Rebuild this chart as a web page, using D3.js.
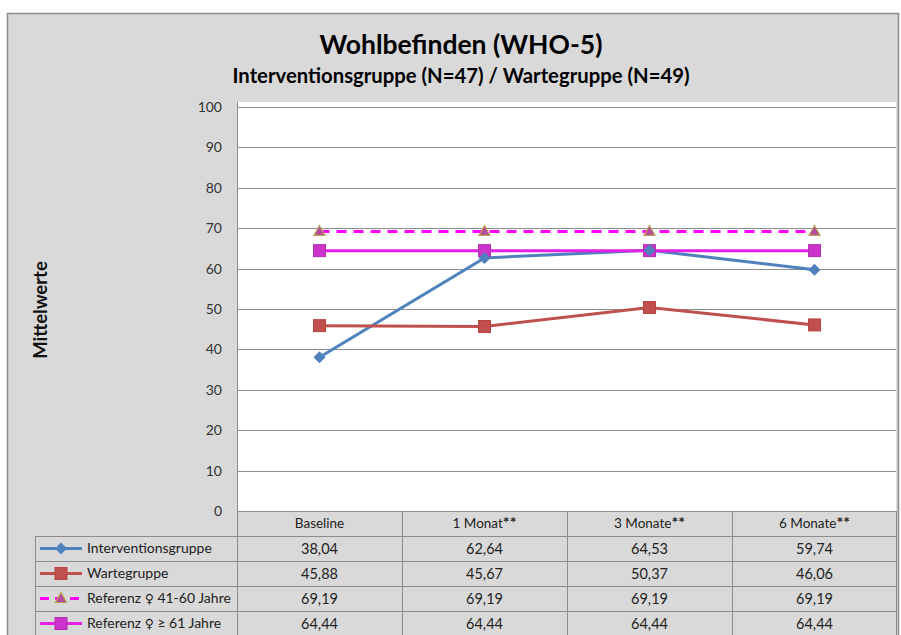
<!DOCTYPE html>
<html>
<head>
<meta charset="utf-8">
<script src="https://cdn.jsdelivr.net/npm/d3@7.9.0/dist/d3.min.js"></script>
<style>
  html, body { margin: 0; padding: 0; background: #fff; }
  svg { display: block; font-family: Lato, "Open Sans", sans-serif; }
</style>
</head>
<body>
<svg id="chart" width="901" height="635"></svg>
<script>
// data
const categories = ['Baseline', '1 Monat**', '3 Monate**', '6 Monate**'];
const seriesNames = ['Interventionsgruppe', 'Wartegruppe', 'Referenz \u2640 41-60 Jahre', 'Referenz \u2640 \u2265 61 Jahre'];
const intervention = [38.04, 62.64, 64.53, 59.74];
const warte = [45.88, 45.67, 50.37, 46.06];
const ref4160 = [69.19, 69.19, 69.19, 69.19];
const ref61 = [64.44, 64.44, 64.44, 64.44];
const yTicks = [0, 10, 20, 30, 40, 50, 60, 70, 80, 90, 100];

const series = [
  { name: seriesNames[0], values: intervention, color: '#4f81bd', marker: 'diamond', dash: null },
  { name: seriesNames[1], values: warte, color: '#c0504d', marker: 'square', dash: null },
  { name: seriesNames[2], values: ref4160, color: '#ff00ff', marker: 'triangle', dash: '10,7' },
  { name: seriesNames[3], values: ref61, color: '#e61ee6', marker: 'square2', dash: null }
];

const de = d3.formatLocale({ decimal: ',', thousands: '.', grouping: [3], currency: ['', ' €'] });
const fmt = de.format('.2f');

const svg = d3.select('#chart');
const gridCol = '#8c8c8c';
const bg = '#d9d9d9';

// chart frame
svg.append('rect').attr('x', 7.5).attr('y', 13.5).attr('width', 891).attr('height', 640)
  .attr('fill', bg).attr('stroke', '#8a8a8a').attr('stroke-width', 1.5);

const x = d3.scaleBand().domain(categories).range([237, 897]);
const y = d3.scaleLinear().domain([0, 100]).range([511, 107]);

// plot area
svg.append('rect').attr('x', 237).attr('y', 102).attr('width', 659).attr('height', 409).attr('fill', '#fff');

// gridlines
svg.append('g').selectAll('line').data(yTicks.filter(d => d > 0)).join('line')
  .attr('x1', 237).attr('x2', 896)
  .attr('y1', d => Math.round(y(d)) + 0.5).attr('y2', d => Math.round(y(d)) + 0.5)
  .attr('stroke', gridCol).attr('stroke-width', 1);
svg.append('line').attr('x1', 237.5).attr('x2', 237.5).attr('y1', 102).attr('y2', 511)
  .attr('stroke', gridCol);

// y tick labels
svg.append('g').selectAll('text').data(yTicks).join('text')
  .attr('x', 222).attr('y', d => y(d)).attr('dy', '0.35em')
  .attr('text-anchor', 'end').attr('font-size', 14).attr('fill', '#333')
  .text(d => d);

// axis title
svg.append('text').attr('transform', 'translate(47,310) rotate(-90)')
  .attr('text-anchor', 'middle').attr('font-size', 18.5).attr('font-weight', 'bold').attr('fill', '#111')
  .text('Mittelwerte');

// titles
svg.append('text').attr('x', 461).attr('y', 54).attr('text-anchor', 'middle')
  .attr('font-size', 26.5).attr('font-weight', 'bold').attr('fill', '#000')
  .text('Wohlbefinden (WHO-5)');
svg.append('text').attr('x', 461).attr('y', 83).attr('text-anchor', 'middle')
  .attr('font-size', 20.3).attr('font-weight', 'bold').attr('fill', '#000')
  .text('Interventionsgruppe (N=47) / Wartegruppe (N=49)');

// markers
function drawMarker(g, type, cx, cy, color) {
  if (type === 'diamond') {
    g.append('path').attr('d', `M${cx},${cy - 6}L${cx + 6},${cy}L${cx},${cy + 6}L${cx - 6},${cy}Z`)
      .attr('fill', color);
  } else if (type === 'square') {
    g.append('rect').attr('x', cx - 6).attr('y', cy - 6).attr('width', 12).attr('height', 12)
      .attr('fill', color).attr('stroke', '#b84540');
  } else if (type === 'triangle') {
    g.append('path').attr('d', `M${cx},${cy - 6}L${cx + 5.5},${cy + 4}L${cx - 5.5},${cy + 4}Z`)
      .attr('fill', '#b54aa0').attr('stroke', '#b8a050').attr('stroke-width', 1.2);
  } else {
    g.append('rect').attr('x', cx - 6).attr('y', cy - 6).attr('width', 12).attr('height', 12)
      .attr('fill', '#cc33cc').attr('stroke', '#b030b0');
  }
}

const line = d3.line().x((d, i) => x(categories[i]) + x.bandwidth() / 2).y(d => y(d));
const lines = svg.append('g');
series.forEach(s => {
  lines.append('path').datum(s.values).attr('d', line)
    .attr('fill', 'none').attr('stroke', s.color).attr('stroke-width', 3)
    .attr('stroke-dasharray', s.dash);
});
// draw order: later series on top
[2, 3, 0, 1].forEach(k => {
  const s = series[k];
  const g = svg.append('g');
  s.values.forEach((v, i) => drawMarker(g, s.marker, x(categories[i]) + x.bandwidth() / 2, y(v), s.color));
});

// data table
const rowH = 25;
const table = svg.append('g');
const tTop = 511;
table.append('line').attr('x1', 237).attr('x2', 897).attr('y1', tTop + 0.5).attr('y2', tTop + 0.5).attr('stroke', gridCol);
for (let r = 1; r <= 5; r++) {
  table.append('line').attr('x1', 35).attr('x2', 897)
    .attr('y1', tTop + r * rowH + 0.5).attr('y2', tTop + r * rowH + 0.5).attr('stroke', gridCol);
}
table.append('line').attr('x1', 35.5).attr('x2', 35.5).attr('y1', tTop + rowH).attr('y2', 640).attr('stroke', gridCol);
categories.forEach(c => {
  table.append('line').attr('x1', Math.round(x(c)) + 0.5).attr('x2', Math.round(x(c)) + 0.5)
    .attr('y1', tTop).attr('y2', 640).attr('stroke', gridCol);
});
table.append('line').attr('x1', 896.5).attr('x2', 896.5).attr('y1', tTop).attr('y2', 640).attr('stroke', gridCol);

// header cells; the asterisks are set a bit larger like in the reference
table.selectAll('.hdr').data(categories).join('text').attr('class', 'hdr')
  .attr('x', d => x(d) + x.bandwidth() / 2).attr('y', tTop + rowH / 2).attr('dy', '0.35em')
  .attr('text-anchor', 'middle').attr('font-size', 13.5).attr('fill', '#222')
  .each(function (d) {
    const el = d3.select(this);
    const base = d.replace(/\*+$/, '');
    el.append('tspan').text(base);
    if (base !== d) el.append('tspan').attr('font-size', 16).attr('font-weight', 'bold').text(d.slice(base.length));
  });

series.forEach((s, r) => {
  const cy = tTop + (r + 1) * rowH + rowH / 2;
  const lg = table.append('g');
  lg.append('line').attr('x1', 40).attr('x2', 82).attr('y1', cy).attr('y2', cy)
    .attr('stroke', s.color).attr('stroke-width', 3).attr('stroke-dasharray', s.dash ? '9,6' : null);
  drawMarker(lg, s.marker, 61, cy, s.color);
  const t = lg.append('text').attr('x', 87).attr('y', cy).attr('dy', '0.35em')
    .attr('font-size', 14).attr('fill', '#222');
  // the female sign is drawn with DejaVu so it is as large as in the reference
  s.name.split('\u2640').forEach((part, j) => {
    if (j > 0) t.append('tspan').attr('font-family', 'DejaVu Sans').attr('font-size', 12.5).text('\u2640');
    t.append('tspan').text(part);
  });
  s.values.forEach((v, i) => {
    table.append('text').attr('x', x(categories[i]) + x.bandwidth() / 2).attr('y', cy).attr('dy', '0.35em')
      .attr('text-anchor', 'middle').attr('font-size', 14.5).attr('fill', '#222')
      .text(fmt(v));
  });
});
</script>
</body>
</html>
